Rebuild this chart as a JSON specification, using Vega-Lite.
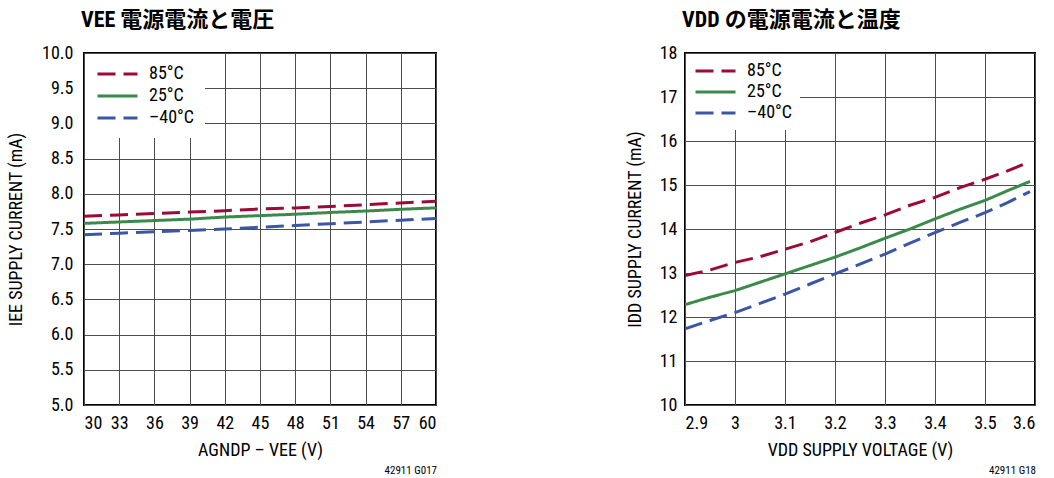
{
  "$schema": "https://vega.github.io/schema/vega-lite/v6.json",
  "padding": {"left": 6, "top": 8, "right": 5, "bottom": 5},
  "background": "white",
  "config": {
    "font": "Roboto Condensed, Roboto, Noto Sans CJK JP",
    "view": {"stroke": "black", "strokeWidth": 2},
    "axis": {
      "labelFont": "Roboto Condensed, Roboto",
      "titleFont": "Roboto Condensed, Roboto",
      "labelFontSize": 18,
      "titleFontSize": 18,
      "titleFontWeight": "normal",
      "labelColor": "black",
      "titleColor": "black",
      "grid": true,
      "gridColor": "#4d4d4d",
      "gridWidth": 1,
      "gridOpacity": 1,
      "domain": false,
      "ticks": false
    },
    "axisX": {"labelPadding": 9, "titlePadding": 9},
    "axisY": {"labelPadding": 11},
    "legend": {
      "labelFont": "Roboto Condensed, Roboto",
      "labelFontSize": 18,
      "labelColor": "black"
    },
    "title": {
      "font": "Roboto Condensed, Roboto, Noto Sans CJK JP",
      "fontSize": 22,
      "fontWeight": "bold",
      "color": "black"
    }
  },
  "datasets": {
    "vee": [
      {"series": "85°C", "v": 30, "i": 7.68}, {"series": "85°C", "v": 33, "i": 7.70}, {"series": "85°C", "v": 36, "i": 7.72}, {"series": "85°C", "v": 39, "i": 7.74}, {"series": "85°C", "v": 42, "i": 7.76}, {"series": "85°C", "v": 45, "i": 7.785}, {"series": "85°C", "v": 48, "i": 7.80}, {"series": "85°C", "v": 51, "i": 7.82}, {"series": "85°C", "v": 54, "i": 7.845}, {"series": "85°C", "v": 57, "i": 7.87}, {"series": "85°C", "v": 60, "i": 7.895},
      {"series": "25°C", "v": 30, "i": 7.58}, {"series": "25°C", "v": 33, "i": 7.60}, {"series": "25°C", "v": 36, "i": 7.62}, {"series": "25°C", "v": 39, "i": 7.64}, {"series": "25°C", "v": 42, "i": 7.67}, {"series": "25°C", "v": 45, "i": 7.69}, {"series": "25°C", "v": 48, "i": 7.71}, {"series": "25°C", "v": 51, "i": 7.735}, {"series": "25°C", "v": 54, "i": 7.755}, {"series": "25°C", "v": 57, "i": 7.78}, {"series": "25°C", "v": 60, "i": 7.80},
      {"series": "–40°C", "v": 30, "i": 7.42}, {"series": "–40°C", "v": 33, "i": 7.44}, {"series": "–40°C", "v": 36, "i": 7.46}, {"series": "–40°C", "v": 39, "i": 7.48}, {"series": "–40°C", "v": 42, "i": 7.50}, {"series": "–40°C", "v": 45, "i": 7.525}, {"series": "–40°C", "v": 48, "i": 7.55}, {"series": "–40°C", "v": 51, "i": 7.575}, {"series": "–40°C", "v": 54, "i": 7.60}, {"series": "–40°C", "v": 57, "i": 7.625}, {"series": "–40°C", "v": 60, "i": 7.65}
    ],
    "vdd": [
      {"series": "85°C", "v": 2.9, "i": 12.94}, {"series": "85°C", "v": 2.95, "i": 13.07}, {"series": "85°C", "v": 3.0, "i": 13.24}, {"series": "85°C", "v": 3.05, "i": 13.37}, {"series": "85°C", "v": 3.1, "i": 13.54}, {"series": "85°C", "v": 3.15, "i": 13.71}, {"series": "85°C", "v": 3.2, "i": 13.92}, {"series": "85°C", "v": 3.25, "i": 14.13}, {"series": "85°C", "v": 3.3, "i": 14.32}, {"series": "85°C", "v": 3.35, "i": 14.54}, {"series": "85°C", "v": 3.4, "i": 14.72}, {"series": "85°C", "v": 3.45, "i": 14.94}, {"series": "85°C", "v": 3.5, "i": 15.13}, {"series": "85°C", "v": 3.545, "i": 15.32}, {"series": "85°C", "v": 3.59, "i": 15.53},
      {"series": "25°C", "v": 2.9, "i": 12.28}, {"series": "25°C", "v": 2.95, "i": 12.45}, {"series": "25°C", "v": 3.0, "i": 12.60}, {"series": "25°C", "v": 3.05, "i": 12.79}, {"series": "25°C", "v": 3.1, "i": 12.98}, {"series": "25°C", "v": 3.15, "i": 13.17}, {"series": "25°C", "v": 3.2, "i": 13.36}, {"series": "25°C", "v": 3.25, "i": 13.57}, {"series": "25°C", "v": 3.3, "i": 13.79}, {"series": "25°C", "v": 3.35, "i": 14.00}, {"series": "25°C", "v": 3.4, "i": 14.23}, {"series": "25°C", "v": 3.45, "i": 14.45}, {"series": "25°C", "v": 3.5, "i": 14.65}, {"series": "25°C", "v": 3.545, "i": 14.87}, {"series": "25°C", "v": 3.59, "i": 15.08},
      {"series": "–40°C", "v": 2.9, "i": 11.73}, {"series": "–40°C", "v": 2.95, "i": 11.92}, {"series": "–40°C", "v": 3.0, "i": 12.10}, {"series": "–40°C", "v": 3.05, "i": 12.31}, {"series": "–40°C", "v": 3.1, "i": 12.52}, {"series": "–40°C", "v": 3.15, "i": 12.75}, {"series": "–40°C", "v": 3.2, "i": 12.98}, {"series": "–40°C", "v": 3.25, "i": 13.20}, {"series": "–40°C", "v": 3.3, "i": 13.43}, {"series": "–40°C", "v": 3.35, "i": 13.68}, {"series": "–40°C", "v": 3.4, "i": 13.92}, {"series": "–40°C", "v": 3.45, "i": 14.15}, {"series": "–40°C", "v": 3.5, "i": 14.37}, {"series": "–40°C", "v": 3.545, "i": 14.60}, {"series": "–40°C", "v": 3.59, "i": 14.85}
    ]
  },
  "spacing": 188,
  "hconcat": [
    {
      "title": {"text": "42911 G017", "orient": "bottom", "anchor": "end", "fontSize": 11, "fontWeight": "normal", "font": "Roboto Condensed, Roboto", "offset": 5},
      "resolve": {"legend": {"color": "independent", "strokeDash": "independent"}, "scale": {"color": "independent", "strokeDash": "independent"}},
      "vconcat": [
        {
          "title": {"text": "VEE 電源電流と電圧", "anchor": "start", "frame": "group", "offset": 12, "dx": -3},
          "width": 352,
          "height": 352,
          "data": {"name": "vee"},
          "mark": {"type": "line", "strokeWidth": 3, "clip": true},
          "encoding": {
            "x": {"field": "v", "type": "quantitative", "scale": {"domain": [30, 60], "nice": false, "zero": false},
                  "axis": {"values": [30, 33, 36, 39, 42, 45, 48, 51, 54, 57, 60], "title": "AGNDP – VEE (V)"}},
            "y": {"field": "i", "type": "quantitative", "scale": {"domain": [5, 10], "nice": false, "zero": false},
                  "axis": {"values": [5, 5.5, 6, 6.5, 7, 7.5, 8, 8.5, 9, 9.5, 10], "format": ".1f", "title": "IEE SUPPLY CURRENT (mA)", "titlePadding": 16}},
            "color": {"field": "series", "type": "nominal",
                      "scale": {"domain": ["85°C", "25°C", "–40°C"], "range": ["#9c0a36", "#3b8a4b", "#3b56a6"]},
                      "legend": {"title": null, "orient": "top-left", "offset": 1, "padding": 11, "fillColor": "white", "symbolType": "stroke", "symbolSize": 1600, "symbolStrokeWidth": 3, "labelOffset": 10, "clipHeight": 18, "rowPadding": 4}},
            "strokeDash": {"field": "series", "type": "nominal",
                           "scale": {"domain": ["85°C", "25°C", "–40°C"], "range": [[18, 8], [1, 0], [18, 8]]},
                           "legend": {"title": null, "orient": "top-left", "offset": 1, "padding": 11, "fillColor": "white", "symbolType": "stroke", "symbolSize": 1600, "symbolStrokeWidth": 3, "labelOffset": 10, "clipHeight": 18, "rowPadding": 4}}
          }
        }
      ]
    },
    {
      "title": {"text": "42911 G18", "orient": "bottom", "anchor": "end", "fontSize": 11, "fontWeight": "normal", "font": "Roboto Condensed, Roboto", "offset": 5},
      "resolve": {"legend": {"color": "independent", "strokeDash": "independent"}, "scale": {"color": "independent", "strokeDash": "independent"}},
      "vconcat": [
        {
          "title": {"text": "VDD の電源電流と温度", "anchor": "start", "frame": "group", "offset": 12, "dx": -3},
          "width": 350,
          "height": 352,
          "data": {"name": "vdd"},
          "mark": {"type": "line", "strokeWidth": 3, "clip": true},
          "encoding": {
            "x": {"field": "v", "type": "quantitative", "scale": {"domain": [2.9, 3.6], "nice": false, "zero": false},
                  "axis": {"values": [2.9, 3, 3.1, 3.2, 3.3, 3.4, 3.5, 3.6], "format": "~g", "title": "VDD SUPPLY VOLTAGE (V)"}},
            "y": {"field": "i", "type": "quantitative", "scale": {"domain": [10, 18], "nice": false, "zero": false},
                  "axis": {"values": [10, 11, 12, 13, 14, 15, 16, 17, 18], "title": "IDD SUPPLY CURRENT (mA)", "titlePadding": 15, "labelPadding": 8}},
            "color": {"field": "series", "type": "nominal",
                      "scale": {"domain": ["85°C", "25°C", "–40°C"], "range": ["#9c0a36", "#3b8a4b", "#3b56a6"]},
                      "legend": {"title": null, "orient": "top-left", "offset": 1, "padding": 8, "fillColor": "white", "symbolType": "stroke", "symbolSize": 1600, "symbolStrokeWidth": 3, "labelOffset": 10, "clipHeight": 18, "rowPadding": 3}},
            "strokeDash": {"field": "series", "type": "nominal",
                           "scale": {"domain": ["85°C", "25°C", "–40°C"], "range": [[18, 8], [1, 0], [18, 8]]},
                           "legend": {"title": null, "orient": "top-left", "offset": 1, "padding": 8, "fillColor": "white", "symbolType": "stroke", "symbolSize": 1600, "symbolStrokeWidth": 3, "labelOffset": 10, "clipHeight": 18, "rowPadding": 3}}
          }
        }
      ]
    }
  ],
  "resolve": {"legend": {"color": "independent", "strokeDash": "independent"}, "scale": {"color": "independent", "strokeDash": "independent"}}
}
